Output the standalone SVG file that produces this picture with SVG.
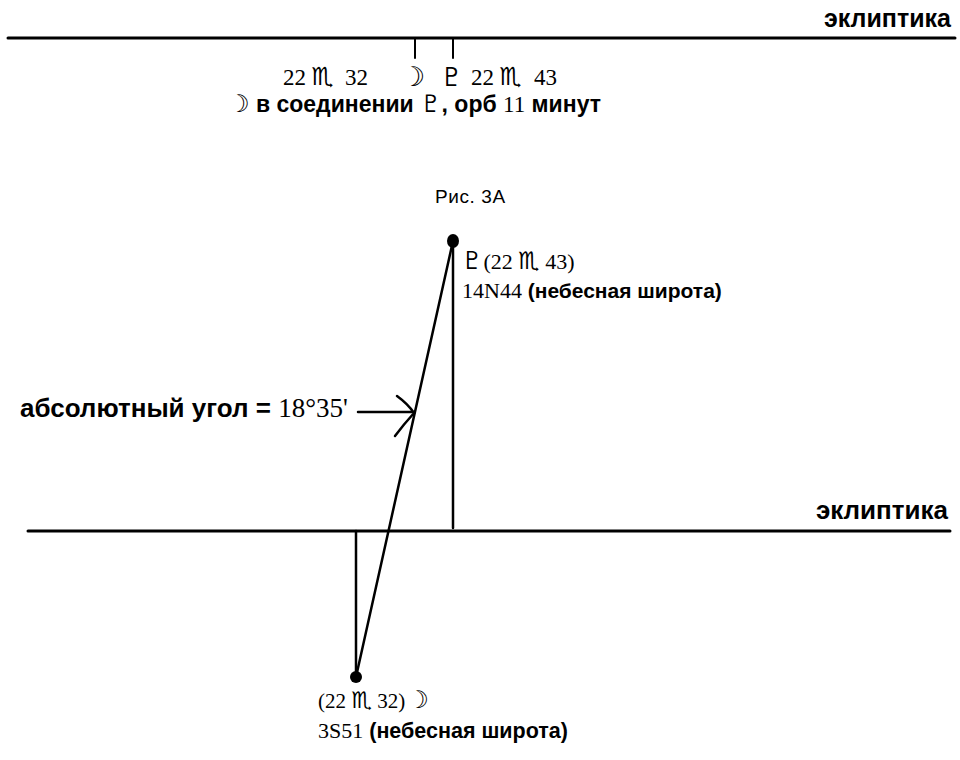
<svg xmlns="http://www.w3.org/2000/svg" width="960" height="760" viewBox="0 0 960 760">
<style>
.ln{stroke:#000;stroke-width:2.5;fill:none;stroke-linecap:round}
.sans{font-family:"Liberation Sans",Arial,sans-serif;font-weight:bold;fill:#000}
.ser{font-family:"Liberation Serif","Times New Roman",serif;fill:#000}
.sym{font-family:"DejaVu Sans",sans-serif;font-weight:bold;fill:#000}
</style>
<rect width="960" height="760" fill="#fff"/>
<g id="ecliptic-top">
<line class="ln" x1="8" y1="38" x2="955" y2="38" style="stroke-width:3"/>
<text class="sans" x="951" y="27" font-size="25" text-anchor="end">эклиптика</text>
<line class="ln" x1="415" y1="38" x2="415" y2="58" style="stroke-width:2"/>
<line class="ln" x1="453" y1="38" x2="453" y2="58" style="stroke-width:2"/>
</g>
<g id="positions">
<text class="ser" x="283" y="85" font-size="23">22</text>
<text class="sym" x="311" y="85" font-size="25">♏</text>
<text class="ser" x="345" y="85" font-size="23">32</text>
<text class="sym" x="401" y="86" font-size="27">☽</text>
<text class="sym" x="440" y="86" font-size="26">♇</text>
<text class="ser" x="471" y="85" font-size="23">22</text>
<text class="sym" x="499" y="85" font-size="25">♏</text>
<text class="ser" x="534" y="85" font-size="23">43</text>
<text x="228" y="112" font-size="23"><tspan class="sym" font-size="24">☽</tspan><tspan class="sans"> в соединении </tspan><tspan class="sym" font-size="24">♇</tspan><tspan class="sans">, орб </tspan><tspan class="ser">11</tspan><tspan class="sans"> минут</tspan></text>
</g>
<g id="caption">
<text x="435" y="203" font-size="19" letter-spacing="0.6" style="font-family:'Liberation Sans',Arial,sans-serif">Рис.  3А</text>
</g>
<g id="ecliptic-bottom">
<line class="ln" x1="28" y1="531" x2="950" y2="531" style="stroke-width:3"/>
<text class="sans" x="948" y="519" font-size="26" text-anchor="end">эклиптика</text>
</g>
<g id="connectors">
<line class="ln" x1="453" y1="241" x2="453" y2="528"/>
<line class="ln" x1="356" y1="531" x2="356" y2="677"/>
<line class="ln" x1="356" y1="677" x2="453" y2="241"/>
<line class="ln" x1="358" y1="412" x2="413" y2="412"/>
<path class="ln" d="M397,396 Q408,404 414,413 Q404,424 395,436"/>
</g>
<g id="pluto">
<ellipse cx="453" cy="241" rx="6" ry="7" fill="#000"/>
<text x="461" y="269" font-size="22"><tspan class="sym" font-size="25">♇</tspan><tspan class="ser">(22 </tspan><tspan class="sym" font-size="24">♏</tspan><tspan class="ser"> 43)</tspan></text>
<text x="462" y="298" font-size="21"><tspan class="ser" font-size="22">14N44</tspan><tspan class="sans"> (небесная широта)</tspan></text>
</g>
<g id="moon">
<circle cx="356" cy="677" r="6" fill="#000"/>
<text x="318" y="708" font-size="21"><tspan class="ser">(22 </tspan><tspan class="sym" font-size="23">♏</tspan><tspan class="ser"> 32)</tspan><tspan class="sym" font-size="24" dx="2">☽</tspan></text>
<text x="318" y="738" font-size="21.5"><tspan class="ser" font-size="22">3S51</tspan><tspan class="sans"> (небесная широта)</tspan></text>
</g>
<g id="angle-label">
<text x="20" y="417" font-size="27"><tspan class="sans" font-size="26">абсолютный угол = </tspan><tspan class="ser">18°35'</tspan></text>
</g>
</svg>
